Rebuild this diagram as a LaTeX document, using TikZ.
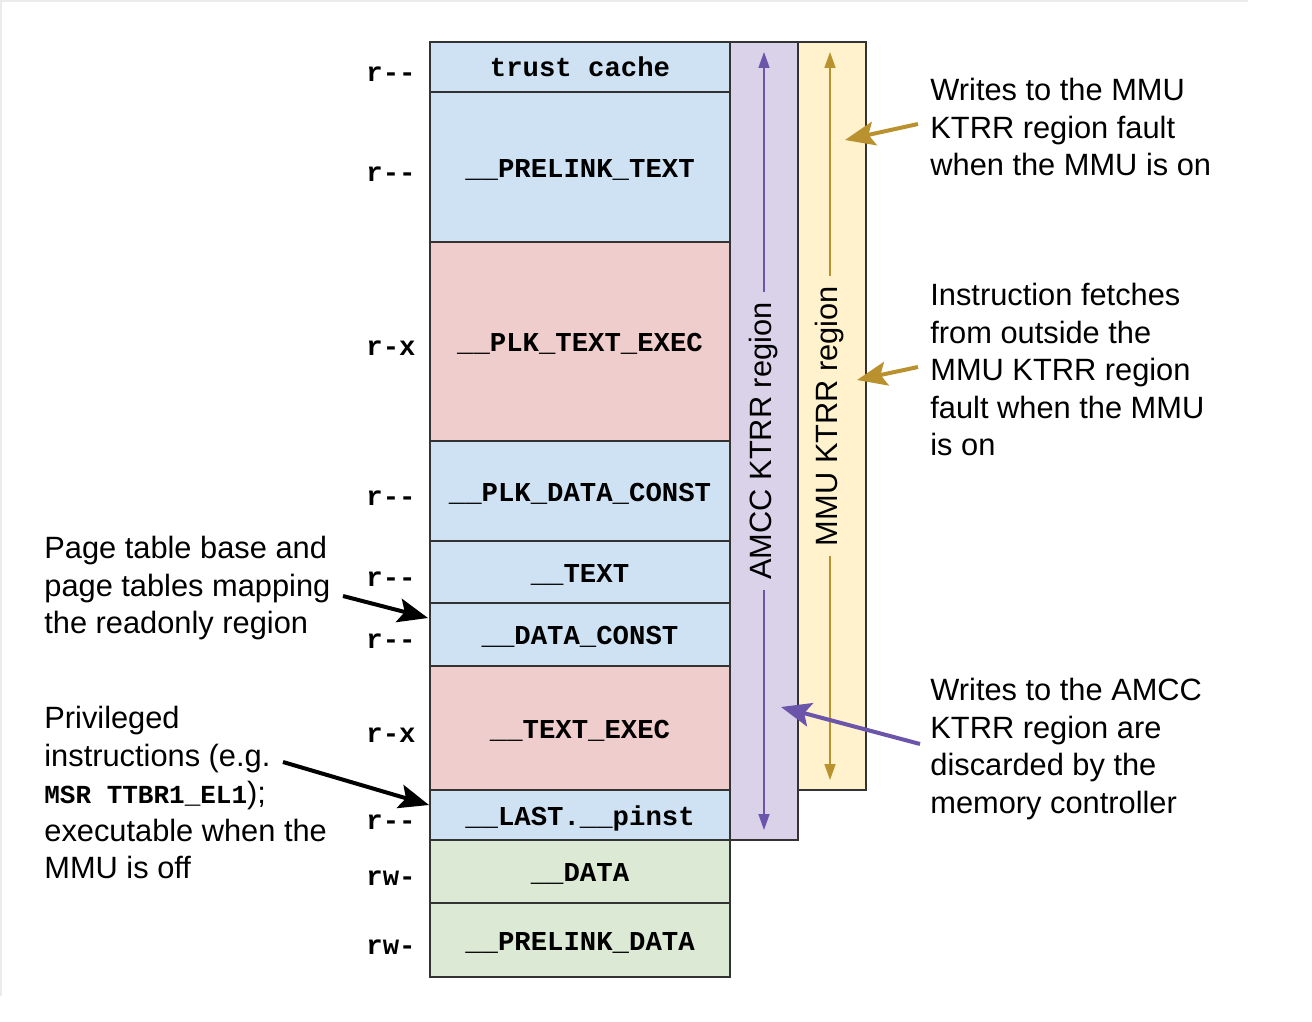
\documentclass[tikz,border=0pt]{standalone}
\usepackage{fontspec}
\setmainfont{Liberation Sans}
\setmonofont{Liberation Mono}
\usepackage{tikz}
\usetikzlibrary{arrows.meta,positioning}
\definecolor{edge}{HTML}{333333}
\definecolor{roblue}{HTML}{CFE2F3}
\definecolor{rxred}{HTML}{EFCDCC}
\definecolor{rwgreen}{HTML}{DCE9D5}
\definecolor{amccfill}{HTML}{D9D2E9}
\definecolor{mmufill}{HTML}{FFF2CC}
\definecolor{amccline}{HTML}{6A55AB}
\definecolor{mmuline}{HTML}{BA912F}

\begin{document}
\begin{tikzpicture}[x=0.5pt,y=-0.5pt]
\tikzstyle{seg}=[draw=edge, line width=0.75pt, minimum width=150pt, inner sep=0pt, outer sep=0pt, text height=11pt, text depth=1pt, font=\fontsize{13.65}{16}\selectfont\ttfamily\bfseries]
\tikzstyle{perm}=[inner sep=0pt, yshift=-3.5pt, font=\fontsize{13.65}{16}\selectfont\ttfamily\bfseries]
\tikzstyle{note}=[align=left, inner sep=0pt, anchor=north west, font=\fontsize{15.4}{18.75}\selectfont]
\tikzstyle{band}=[rotate=90, inner xsep=5pt, inner ysep=0pt, font=\fontsize{15.4}{18}\selectfont]
\tikzstyle{fat}=[line width=2pt, -{Stealth[length=15pt,width=12pt,inset=3pt]}]
\tikzstyle{thin}=[line width=0.8pt, -{Triangle[length=8pt,width=5.5pt]}]
\useasboundingbox (0,0) rectangle (1312,1022);
\draw[black!8, line width=1pt] (1,996) -- (1,1) -- (1248,1);
\filldraw[fill=amccfill, draw=edge, line width=0.75pt] (730,42) rectangle (798,840);
\filldraw[fill=mmufill, draw=edge, line width=0.75pt] (798,42) rectangle (866,790);

\node[seg, fill=roblue, minimum height=25pt, anchor=north west] (tc) at (430,42) {trust cache};
\node[seg, fill=roblue, minimum height=75pt, below=0pt of tc] (plt) {\_\_PRELINK\_TEXT};
\node[seg, fill=rxred, minimum height=99.5pt, below=0pt of plt] (pte) {\_\_PLK\_TEXT\_EXEC};
\node[seg, fill=roblue, minimum height=50pt, below=0pt of pte] (pdc) {\_\_PLK\_DATA\_CONST};
\node[seg, fill=roblue, minimum height=31pt, below=0pt of pdc] (txt) {\_\_TEXT};
\node[seg, fill=roblue, minimum height=31.5pt, below=0pt of txt] (dc) {\_\_DATA\_CONST};
\node[seg, fill=rxred, minimum height=62pt, below=0pt of dc] (te) {\_\_TEXT\_EXEC};
\node[seg, fill=roblue, minimum height=25pt, below=0pt of te] (lp) {\_\_LAST.\_\_pinst};
\node[seg, fill=rwgreen, minimum height=31.5pt, below=0pt of lp] (dat) {\_\_DATA};
\node[seg, fill=rwgreen, minimum height=37pt, below=0pt of dat] (pd) {\_\_PRELINK\_DATA};

\node[perm, left=7pt of tc] {r-{}-};
\node[perm, left=7pt of plt] {r-{}-};
\node[perm, left=7pt of pte] {r-x};
\node[perm, left=7pt of pdc] {r-{}-};
\node[perm, left=7pt of txt] {r-{}-};
\node[perm, left=7pt of dc] {r-{}-};
\node[perm, left=7pt of te] {r-x};
\node[perm, left=7pt of lp] {r-{}-};
\node[perm, left=7pt of dat] {rw-};
\node[perm, left=7pt of pd] {rw-};

\node[band] (amccl) at (764,441) {AMCC KTRR region};
\node[band] (mmul) at (830,416) {MMU KTRR region};
\coordinate (amcctop) at (764,52);
\coordinate (amccbot) at (764,830);
\coordinate (mmutop) at (830,52);
\coordinate (mmubot) at (830,780);
\draw[thin, amccline] (amccl.east) -- (amcctop);
\draw[thin, amccline] (amccl.west) -- (amccbot);
\draw[thin, mmuline] (mmul.east) -- (mmutop);
\draw[thin, mmuline] (mmul.west) -- (mmubot);

\node[note] (wmmu) at (930,78) {Writes to the MMU\\KTRR region fault\\when the MMU is on};
\node[note] (ifetch) at (930,283) {Instruction fetches\\from outside the\\MMU KTRR region\\fault when the MMU\\is on};
\node[note] (wamcc) at (930,678) {Writes to the AMCC\\KTRR region are\\discarded by the\\memory controller};
\node[note] (ptb) at (44,536) {Page table base and\\page tables mapping\\the readonly region};
\node[note] (priv) at (44,706) {Privileged\\instructions (e.g.\\{\fontsize{13}{16}\selectfont\ttfamily\bfseries MSR TTBR1\_EL1});\\executable when the\\MMU is off};

\coordinate (wmmus) at (918,124);
\coordinate (wmmue) at (845,140);
\coordinate (ifetchs) at (918,367);
\coordinate (ifetche) at (857,380);
\coordinate (wamccs) at (920,744);
\coordinate (wamcce) at (781,707);
\coordinate (ptbs) at (343,596);
\coordinate (ptbe) at (428,618);
\coordinate (privs) at (283,762);
\coordinate (prive) at (429,805);
\draw[fat, mmuline] (wmmus) -- (wmmue);
\draw[fat, mmuline] (ifetchs) -- (ifetche);
\draw[fat, amccline] (wamccs) -- (wamcce);
\draw[fat, black] (ptbs) -- (ptbe);
\draw[fat, black] (privs) -- (prive);
\end{tikzpicture}
\end{document}
